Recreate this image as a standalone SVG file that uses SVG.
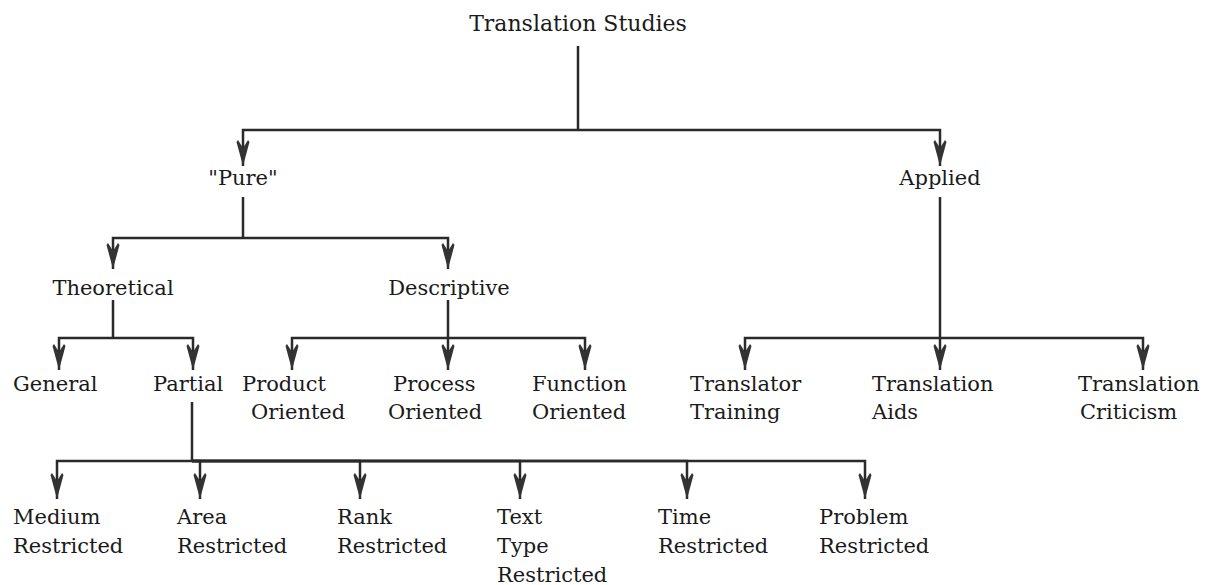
<svg xmlns="http://www.w3.org/2000/svg" width="1205" height="585" viewBox="0 0 1205 585">
<style>
  .lbl { font-family: "DejaVu Serif", "Liberation Serif", serif; font-size: 21px; fill: #1a1a1a; }
  .title { font-size: 22px; }
  .c { text-anchor: middle; }
  .edge { fill: none; stroke: #2a2a2a; stroke-width: 2.5; }
  .arr { marker-end: url(#ah); }
</style>
<defs>
  <marker id="ah" markerUnits="userSpaceOnUse" viewBox="0 -8 28 16" refX="26" refY="0" markerWidth="28" markerHeight="16" orient="auto">
    <path d="M26,0 L2,-6.5 L0,-5 L8,0 L0,5 L2,6.5 Z" fill="#333333"/>
  </marker>
</defs>
<rect width="1205" height="585" fill="#ffffff"/>
<g id="connectors">
  <path class="edge" d="M578,46 V130"/>
  <path class="edge arr" d="M578,130 H243 V166"/>
  <path class="edge arr" d="M578,130 H940 V166"/>
  <path class="edge" d="M243,197 V238"/>
  <path class="edge arr" d="M243,238 H113 V269"/>
  <path class="edge arr" d="M243,238 H448 V269"/>
  <path class="edge" d="M113,300 V338"/>
  <path class="edge arr" d="M113,338 H59 V370"/>
  <path class="edge arr" d="M113,338 H193 V370"/>
  <path class="edge arr" d="M448,300 V370"/>
  <path class="edge arr" d="M448,338 H292 V370"/>
  <path class="edge arr" d="M448,338 H585 V370"/>
  <path class="edge arr" d="M940,197 V370"/>
  <path class="edge arr" d="M940,338 H745 V370"/>
  <path class="edge arr" d="M940,338 H1143 V370"/>
  <path class="edge" d="M192,402 V461"/>
  <path class="edge arr" d="M192,461 H57 V499"/>
  <path class="edge arr" d="M192,461 H200 V499"/>
  <path class="edge arr" d="M192,461 H360 V499"/>
  <path class="edge arr" d="M192,461 H520 V499"/>
  <path class="edge arr" d="M192,461 H687 V499"/>
  <path class="edge arr" d="M192,461 H865 V499"/>
</g>
<g id="n-translation-studies"><text class="lbl title c" x="578" y="31">Translation Studies</text></g>
<g id="n-pure"><text class="lbl c" x="243" y="185">"Pure"</text></g>
<g id="n-applied"><text class="lbl c" x="940" y="185">Applied</text></g>
<g id="n-theoretical"><text class="lbl c" x="113" y="295">Theoretical</text></g>
<g id="n-descriptive"><text class="lbl c" x="449" y="295">Descriptive</text></g>
<g id="n-general"><text class="lbl" x="13" y="391">General</text></g>
<g id="n-partial"><text class="lbl" x="153" y="391">Partial</text></g>
<g id="n-product"><text class="lbl" x="242" y="391">Product</text><text class="lbl" x="251" y="419">Oriented</text></g>
<g id="n-process"><text class="lbl" x="393" y="391">Process</text><text class="lbl" x="388" y="419">Oriented</text></g>
<g id="n-function"><text class="lbl" x="532" y="391">Function</text><text class="lbl" x="532" y="419">Oriented</text></g>
<g id="n-translator-training"><text class="lbl" x="690" y="391">Translator</text><text class="lbl" x="690" y="419">Training</text></g>
<g id="n-translation-aids"><text class="lbl" x="872" y="391">Translation</text><text class="lbl" x="872" y="419">Aids</text></g>
<g id="n-translation-criticism"><text class="lbl" x="1078" y="391">Translation</text><text class="lbl" x="1080" y="419">Criticism</text></g>
<g id="n-medium"><text class="lbl" x="13" y="524">Medium</text><text class="lbl" x="13" y="553">Restricted</text></g>
<g id="n-area"><text class="lbl" x="177" y="524">Area</text><text class="lbl" x="177" y="553">Restricted</text></g>
<g id="n-rank"><text class="lbl" x="337" y="524">Rank</text><text class="lbl" x="337" y="553">Restricted</text></g>
<g id="n-text-type"><text class="lbl" x="497" y="524">Text</text><text class="lbl" x="497" y="553">Type</text><text class="lbl" x="497" y="582">Restricted</text></g>
<g id="n-time"><text class="lbl" x="658" y="524">Time</text><text class="lbl" x="658" y="553">Restricted</text></g>
<g id="n-problem"><text class="lbl" x="819" y="524">Problem</text><text class="lbl" x="819" y="553">Restricted</text></g>
</svg>
